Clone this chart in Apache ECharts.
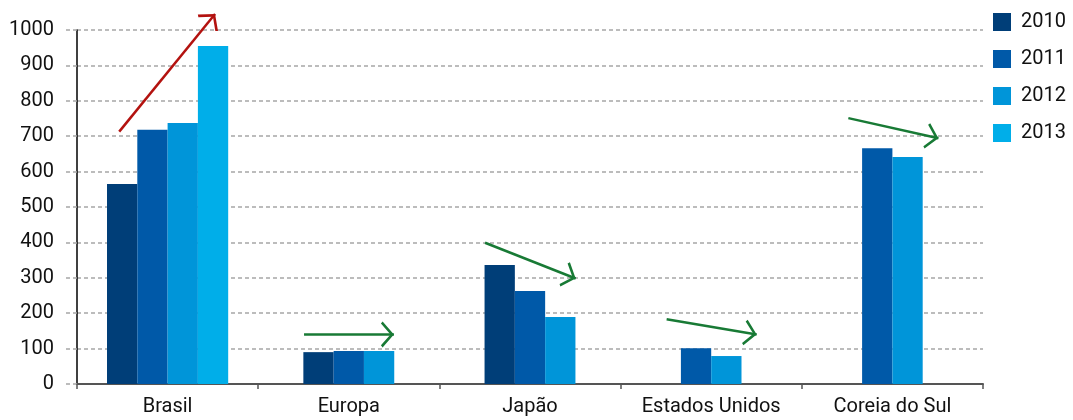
<!DOCTYPE html>
<html>
<head>
<meta charset="utf-8">
<script src="https://cdn.jsdelivr.net/npm/echarts@6/dist/echarts.min.js"></script>
<style>
html,body{margin:0;padding:0;background:#fff;}
#chart{width:1073px;height:420px;}
</style>
</head>
<body>
<div id="chart"></div>
<script>
var categories = ['Brasil', 'Europa', 'Japão', 'Estados Unidos', 'Coreia do Sul'];
var years = ['2010', '2011', '2012', '2013'];
var v2010 = [565, 90, 336, null, null];
var v2011 = [718, 93, 263, 101, 666];
var v2012 = [737, 93, 189, 79, 641];
var v2013 = [955, null, null, null, null];
var yTicks = [0, 100, 200, 300, 400, 500, 600, 700, 800, 900, 1000];
// trend arrows: [xStart, yStart, xEnd, yEnd] in (category units, value units)
var arrowRed = [[0.233, 713, 0.762, 1045]];
var arrowGreen = [
  [1.253, 140, 1.749, 140],
  [2.252, 399, 2.752, 298],
  [3.254, 183, 3.751, 140],
  [4.257, 751, 4.754, 694]
];

var colors = ['#003e78', '#0059a8', '#0095d9', '#00aee9'];
var FONT = 'Roboto, "Liberation Sans", sans-serif';
var chevron = 'path://M0,-13 L0.01,-12.99 L-0.01,-12.99 Z M0,0 L10,11.3 L8.4,13 L0,3.4 L-8.4,13 L-10,11.3 Z';
var seriesVals = [v2010, v2011, v2012, v2013];
var BAR_FRAC = 0.1672;

function arrowData(list, color) {
  return list.map(function (a) {
    return { coords: [[a[0], a[1]], [a[2], a[3]]], lineStyle: { color: color } };
  });
}

var series = years.map(function (y, i) {
  var data = [];
  seriesVals[i].forEach(function (v, j) { if (v !== null) data.push([j, v]); });
  return {
    name: y, type: 'custom', xAxisIndex: 0, yAxisIndex: 0, silent: true,
    itemStyle: { color: colors[i] },
    encode: { x: 0, y: 1 },
    data: data,
    renderItem: function (params, api) {
      var j = api.value(0), v = api.value(1);
      var present = [];
      seriesVals.forEach(function (arr, k) { if (arr[j] !== null) present.push(k); });
      var n = present.length, k = present.indexOf(i);
      var band = api.size([1, 0])[0];
      var w = band * BAR_FRAC;
      var top = api.coord([j, v]);
      var base = api.coord([j, 0]);
      var x = top[0] - n * w / 2 + k * w;
      return {
        type: 'rect',
        shape: { x: x, y: top[1], width: w, height: base[1] - top[1] },
        style: { fill: colors[i] }
      };
    }
  };
});
series.push({
  type: 'lines', coordinateSystem: 'cartesian2d', xAxisIndex: 1, yAxisIndex: 0,
  clip: false, silent: true, z: 5,
  symbol: ['none', chevron], symbolSize: [20, 26],
  lineStyle: { width: 2.5, opacity: 1, curveness: 0 },
  data: arrowData(arrowRed, '#b3120f').concat(arrowData(arrowGreen, '#187a35'))
});

var chart = echarts.init(document.getElementById('chart'), null, { renderer: 'canvas' });
chart.setOption({
  animation: false,
  color: colors,
  textStyle: { fontFamily: FONT },
  grid: { left: 77, right: 90, top: 30, bottom: 36, containLabel: false },
  legend: {
    orient: 'vertical', left: 993, top: 12, padding: 0,
    itemWidth: 18, itemHeight: 18, itemGap: 17,
    icon: 'rect',
    data: years,
    textStyle: { fontSize: 20, color: '#111', fontFamily: FONT, padding: [0, 0, 0, 5] }
  },
  xAxis: [{
    type: 'category', data: categories, boundaryGap: true,
    axisLine: { lineStyle: { color: '#555', width: 2 } },
    axisTick: { show: true, interval: 0, length: 5, lineStyle: { color: '#555', width: 1.5 } },
    axisLabel: { fontSize: 20, color: '#111', margin: 13, fontFamily: FONT, interval: 0 },
    splitLine: { show: false }
  }, {
    type: 'value', min: 0, max: 5, show: false
  }],
  yAxis: {
    type: 'value', min: 0, max: 1000, interval: 100,
    axisLine: { show: true, lineStyle: { color: '#000', width: 1.5 } },
    axisTick: { show: true, length: 12, lineStyle: { color: '#a6a6a6', type: [4, 3], width: 1.5 } },
    axisLabel: {
      fontSize: 20, color: '#111', margin: 23, fontFamily: FONT,
      formatter: function (v) { return yTicks.indexOf(v) >= 0 ? String(v) : ''; }
    },
    splitLine: { show: true, lineStyle: { color: '#a6a6a6', type: [4, 3], width: 1.5 } }
  },
  series: series
});
</script>
</body>
</html>
